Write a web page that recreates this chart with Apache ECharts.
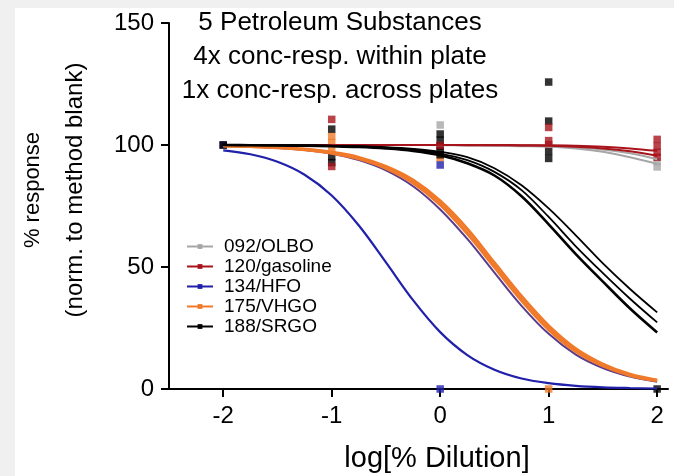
<!DOCTYPE html>
<html>
<head>
<meta charset="utf-8">
<script src="https://cdn.jsdelivr.net/npm/echarts@6/dist/echarts.min.js"></script>
<style>
  html, body { margin: 0; padding: 0; background: #f0f0f0; }
  #chart { width: 674px; height: 476px; }
</style>
</head>
<body>
<div id="chart"></div>
<script>
// Dilution grid (log % dilution) at which the fitted curves are sampled
const doseGrid = [-2, -1.75, -1.5, -1.25, -1, -0.75, -0.5, -0.25, 0, 0.25, 0.5, 0.75, 1, 1.25, 1.5, 1.75, 2];

// Fitted concentration-response curves (% response)
const olboFitA = [100, 100, 100, 100, 100, 100, 100, 100, 100, 99.9, 99.8, 99.7, 99.6, 99.1, 98.2, 96.6, 94.2];
const olboFitB = [100, 100, 100, 100, 100, 100, 100, 100, 99.9, 99.8, 99.7, 99.5, 99.3, 98.6, 97.2, 95.0, 92.3];
const gasolineFitA = [100, 100, 100, 100, 100, 100, 100, 100, 100, 100, 100, 99.9, 99.9, 99.7, 99.3, 98.6, 97.6];
const gasolineFitB = [100, 100, 100, 100, 100, 100, 100, 100, 100, 99.9, 99.9, 99.8, 99.7, 99.3, 98.6, 97.4, 95.6];
const hfoFit = [97.8, 96.2, 93.1, 87.8, 79.3, 67.0, 51.9, 36.4, 23.3, 13.9, 7.9, 4.3, 2.4, 1.3, 0.7, 0.4, 0.2];
const hfoFitEdge = [99.6, 99.3, 98.8, 97.9, 96.4, 93.8, 89.6, 83.1, 73.6, 61.5, 47.7, 34.1, 22.6, 14.1, 8.6, 5.1, 3.0];
const vhgoFitA = [99.6, 99.4, 98.9, 98.1, 96.7, 94.4, 90.5, 84.5, 75.6, 63.7, 50.0, 36.3, 24.4, 15.4, 9.5, 5.6, 3.4];
const vhgoFitB = [99.7, 99.4, 99.0, 98.3, 97.0, 94.9, 91.2, 85.6, 77.1, 65.6, 51.7, 38.0, 25.9, 16.5, 10.2, 6.0, 3.6];
const srgoFitA = [100, 99.9, 99.8, 99.7, 99.5, 99.2, 98.6, 97.6, 95.8, 92.5, 87.5, 79.0, 67.5, 55.3, 44.0, 33.0, 23.2];
const srgoFitB = [100, 100, 99.9, 99.8, 99.6, 99.4, 98.9, 98.0, 96.5, 93.8, 89.0, 81.5, 70.5, 58.5, 47.5, 37.0, 27.3];
const srgoFitC = [100, 100, 100, 99.9, 99.7, 99.5, 99.1, 98.4, 97.2, 95.0, 90.5, 83.5, 74.0, 63.0, 51.5, 41.0, 31.4];

// Measured responses: [log % dilution, % response]
const olboPoints = [[-2, 100], [0, 108.2], [2, 93.2], [2, 91.0]];
const gasolinePoints = [[-1, 110.5], [-1, 91.2], [0, 99.8], [1, 107.2], [1, 101.8], [1, 100.2], [2, 102.3], [2, 99.5], [2, 97.0], [2, 95.0]];
const hfoPoints = [[-2, 100], [0, 91.8], [0, 0]];
const vhgoPoints = [[-1, 103.6], [-1, 101.0], [-1, 98.6], [0, 94.7], [1, 0]];
const srgoPoints = [[-2, 100], [-1, 106.5], [-1, 95.2], [-1, 92.8], [0, 104.5], [0, 102.0], [0, 99.5], [0, 97.5], [0, 96.0],
                    [1, 125.8], [1, 109.8], [1, 97.4], [1, 94.5], [2, 0]];

const substanceNames = ['092/OLBO', '120/gasoline', '134/HFO', '175/VHGO', '188/SRGO'];
const substanceColors = ['#a6a6a6', '#a8141c', '#2020aa', '#f07a2a', '#000000'];

const xTicks = [-2, -1, 0, 1, 2];
const titleLines = ['5 Petroleum Substances', '4x conc-resp. within plate', '1x conc-resp. across plates'];
const yTitleLines = ['% response', '(norm. to method blank)'];
const xTitle = 'log[% Dilution]';

const FONT = 'Liberation Sans, Arial, sans-serif';

function pair(ys) { return doseGrid.map((x, i) => [x, ys[i]]); }

function curve(name, color, ys, width, z) {
  return {
    type: 'line', name: name, data: pair(ys), smooth: 0.35,
    symbol: 'rect', symbolSize: 5, showSymbol: false, z: z,
    lineStyle: { color: color, width: width }, itemStyle: { color: color },
    emphasis: { disabled: true }, silent: true
  };
}
function points(name, color, pts) {
  return {
    type: 'scatter', name: name, data: pts, symbol: 'rect', symbolSize: 7.5, z: 3,
    itemStyle: { color: color }, emphasis: { disabled: true }, silent: true
  };
}

// fitted lines first (legend icons come from them), drawn above the measured points
const series = [
  curve(substanceNames[0], substanceColors[0], olboFitA, 2, 4.0),
  curve(substanceNames[1], substanceColors[1], gasolineFitA, 2, 4.2),
  curve(substanceNames[2], substanceColors[2], hfoFit, 2.2, 4.4),
  curve(substanceNames[3], substanceColors[3], vhgoFitA, 3.2, 4.6),
  curve(substanceNames[4], substanceColors[4], srgoFitA, 2.6, 4.8),
  curve(substanceNames[0], substanceColors[0], olboFitB, 2, 4.0),
  curve(substanceNames[1], substanceColors[1], gasolineFitB, 2, 4.2),
  curve(substanceNames[2], '#5a3c8c', hfoFitEdge, 2, 4.5),
  curve(substanceNames[3], substanceColors[3], vhgoFitB, 3.2, 4.6),
  curve(substanceNames[4], substanceColors[4], srgoFitB, 1.8, 4.8),
  curve(substanceNames[4], substanceColors[4], srgoFitC, 1.8, 4.8),
  points(substanceNames[0], substanceColors[0], olboPoints),
  points(substanceNames[3], substanceColors[3], vhgoPoints),
  points(substanceNames[2], substanceColors[2], hfoPoints),
  points(substanceNames[4], substanceColors[4], srgoPoints),
  points(substanceNames[1], substanceColors[1], gasolinePoints)
];

const chart = echarts.init(document.getElementById('chart'), null, { renderer: 'canvas' });
chart.setOption({
  animation: false,
  backgroundColor: 'transparent',
  textStyle: { fontFamily: FONT },
  graphic: {
    elements: [
      { type: 'rect', z: -10, silent: true, shape: { x: 15, y: 8, width: 659, height: 468 }, style: { fill: '#ffffff' } },
      { type: 'text', z: 10, silent: true, x: 340, y: 6,
        style: { text: titleLines.join('\n'), font: '26px ' + FONT, fill: '#000', align: 'center', verticalAlign: 'top', lineHeight: 34 } },
      { type: 'text', z: 10, silent: true, x: 33, y: 190, rotation: Math.PI / 2,
        style: { text: yTitleLines[0], font: '22px ' + FONT, fill: '#000', align: 'center', verticalAlign: 'middle' } },
      { type: 'text', z: 10, silent: true, x: 75, y: 190, rotation: Math.PI / 2,
        style: { text: yTitleLines[1], font: '24px ' + FONT, fill: '#000', align: 'center', verticalAlign: 'middle' } },
      { type: 'text', z: 10, silent: true, x: 437, y: 459,
        style: { text: xTitle, font: '29px ' + FONT, fill: '#000', align: 'center', verticalAlign: 'middle' } }
    ]
  },
  grid: { left: 169, right: 6, top: 23, bottom: 87, containLabel: false },
  legend: {
    orient: 'vertical', left: 181, top: 232, itemWidth: 26, itemHeight: 6, itemGap: 1,
    data: substanceNames, selectedMode: false,
    textStyle: { fontSize: 19, color: '#000', fontFamily: FONT, padding: [0, 0, 0, 6] }
  },
  xAxis: {
    type: 'value', min: -2.5, max: 2.1,
    axisLine: { show: true, onZero: false, lineStyle: { color: '#000', width: 2 } },
    axisTick: { show: true, length: 8, inside: false, customValues: xTicks, lineStyle: { color: '#000', width: 2 } },
    axisLabel: { customValues: xTicks, fontSize: 24, color: '#000', margin: 15, fontFamily: FONT },
    splitLine: { show: false }
  },
  yAxis: {
    type: 'value', min: 0, max: 150, interval: 50,
    axisLine: { show: true, onZero: false, lineStyle: { color: '#000', width: 2 } },
    axisTick: { show: true, length: 8, lineStyle: { color: '#000', width: 2 } },
    axisLabel: { fontSize: 24, color: '#000', margin: 15, fontFamily: FONT },
    splitLine: { show: false }
  },
  series: series
});
</script>
</body>
</html>
